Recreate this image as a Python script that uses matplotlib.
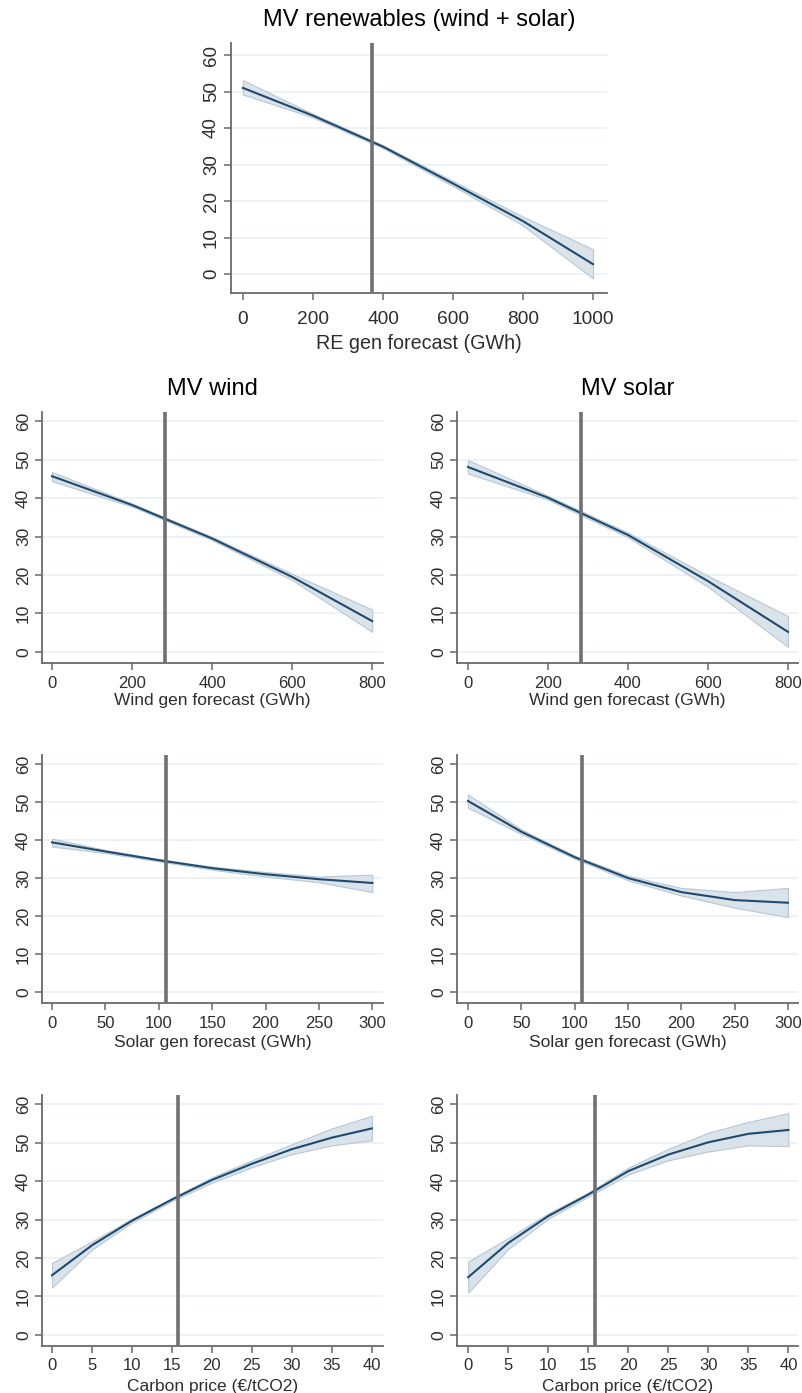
import numpy as np
import matplotlib as mpl
mpl.use('Agg')
import matplotlib.pyplot as plt

plt.rcParams['font.family'] = ['Liberation Sans', 'DejaVu Sans']

# predicted margins (point estimate, lower CI, upper CI)
re_x = [0, 200, 400, 600, 800, 1000]
re_y = [51.0, 43.4, 34.9, 24.8, 14.5, 2.7]
re_lo = [49.2, 42.9, 34.5, 24.1, 13.3, -1.2]
re_hi = [53.1, 43.9, 35.3, 25.5, 15.7, 6.8]

wind_x = [0, 200, 400, 600, 800]
windw_y = [45.7, 38.2, 29.5, 19.5, 8.0]
windw_lo = [44.4, 37.8, 29.1, 18.7, 5.2]
windw_hi = [46.8, 38.6, 29.9, 20.3, 11.0]
winds_y = [48.1, 40.1, 30.4, 18.4, 5.2]
winds_lo = [46.4, 39.6, 29.8, 16.9, 1.3]
winds_hi = [49.9, 40.6, 31.0, 19.8, 9.3]

solar_x = [0, 50, 100, 150, 200, 250, 300]
solarw_y = [39.4, 37.0, 34.7, 32.6, 31.0, 29.7, 28.7]
solarw_lo = [38.3, 36.6, 34.4, 32.2, 30.4, 28.9, 26.3]
solarw_hi = [40.4, 37.4, 35.0, 33.0, 31.6, 30.4, 30.9]
solars_y = [50.3, 42.2, 35.5, 30.0, 26.3, 24.2, 23.5]
solars_lo = [48.5, 41.6, 35.1, 29.4, 25.4, 22.2, 19.7]
solars_hi = [52.0, 42.8, 35.9, 30.6, 27.4, 26.3, 27.4]

co2_x = [0, 5, 10, 15, 20, 25, 30, 35, 40]
co2w_y = [15.5, 23.3, 29.7, 35.2, 40.3, 44.5, 48.3, 51.3, 53.7]
co2w_lo = [12.3, 22.2, 29.2, 34.8, 39.6, 43.6, 47.0, 49.3, 50.6]
co2w_hi = [18.7, 24.3, 30.2, 35.6, 41.0, 45.4, 49.6, 53.7, 57.0]
co2s_y = [15.0, 23.9, 30.9, 36.5, 42.6, 46.9, 50.1, 52.3, 53.3]
co2s_lo = [11.0, 22.3, 30.2, 36.0, 41.7, 45.4, 47.7, 49.3, 49.1]
co2s_hi = [19.1, 25.2, 31.6, 37.0, 43.5, 48.4, 52.6, 55.4, 57.7]

# sample means marked by vertical lines
re_mean = 369
wind_mean = 283
solar_mean = 107
co2_mean = 15.8

W, H = 803, 1393
fig = plt.figure(figsize=(W / 100, H / 100), dpi=100)

navy = '#1f4a6e'
band = '#dae3ea'
band_edge = '#b9c8d5'
grid_c = '#e8f0f3'
spine_c = '#6a6a6a'
txt_c = '#2e2e2e'


def box(l, t, r, b):
    return [l / W, 1 - b / H, (r - l) / W, (b - t) / H]


def panel(rect, x, y, lo, hi, vmean, xticks, xlim, ylim, xlabel, title=None,
          tsize=12, lsize=12.5, ysize=12.5, tpad=4, lpad=2):
    ax = fig.add_axes(rect)
    for g in range(0, 70, 10):
        ax.axhline(g, color=grid_c, lw=1.1, zorder=0)
    ax.fill_between(x, lo, hi, color=band, edgecolor=band_edge, lw=0.8, zorder=2)
    ax.plot(x, y, color=navy, lw=1.5, zorder=3)
    ax.axvline(vmean, color='#707070', lw=2.6, zorder=4)
    ax.set_xlim(xlim)
    ax.set_ylim(ylim)
    ax.set_xticks(xticks)
    ax.set_yticks(range(0, 70, 10))
    for s in ['top', 'right']:
        ax.spines[s].set_visible(False)
    for s in ['left', 'bottom']:
        ax.spines[s].set_color(spine_c)
        ax.spines[s].set_linewidth(1.3)
    ax.tick_params(direction='out', length=5, width=1.1, color=spine_c,
                   labelcolor=txt_c)
    ax.tick_params(axis='x', labelsize=tsize, pad=tpad)
    ax.tick_params(axis='y', labelsize=ysize, pad=3)
    plt.setp(ax.get_yticklabels(), rotation=90, va='center')
    ax.set_xlabel(xlabel, fontsize=lsize, color=txt_c, labelpad=lpad)
    if title:
        ax.set_title(title, fontsize=17, pad=12)
    return ax


panel(box(231, 43, 607, 293), re_x, re_y, re_lo, re_hi, re_mean,
      range(0, 1001, 200), (-34, 1040), (-5.2, 63.3), 'RE gen forecast (GWh)',
      title='MV renewables (wind + solar)', tsize=13.8, lsize=14.2, ysize=13.5,
      tpad=8, lpad=4)

yl = (-2.9, 62.4)
panel(box(42, 412, 383, 663), wind_x, windw_y, windw_lo, windw_hi, wind_mean,
      range(0, 801, 200), (-25, 827), yl, 'Wind gen forecast (GWh)', title='MV wind')
panel(box(457, 412, 798, 663), wind_x, winds_y, winds_lo, winds_hi, wind_mean,
      range(0, 801, 200), (-27.5, 825), yl, 'Wind gen forecast (GWh)', title='MV solar')

panel(box(42, 755, 383, 1003), solar_x, solarw_y, solarw_lo, solarw_hi, solar_mean,
      range(0, 301, 50), (-9.4, 310), yl, 'Solar gen forecast (GWh)', lpad=3)
panel(box(457, 755, 798, 1003), solar_x, solars_y, solars_lo, solars_hi, solar_mean,
      range(0, 301, 50), (-10.3, 309.4), yl, 'Solar gen forecast (GWh)', lpad=3)

panel(box(42, 1095, 383, 1346), co2_x, co2w_y, co2w_lo, co2w_hi, co2_mean,
      range(0, 41, 5), (-1.25, 41.4), yl, 'Carbon price (€/tCO2)', lpad=4)
panel(box(457, 1095, 798, 1346), co2_x, co2s_y, co2s_lo, co2s_hi, co2_mean,
      range(0, 41, 5), (-1.4, 41.2), yl, 'Carbon price (€/tCO2)', lpad=4)

fig.savefig('out.png', dpi=100, facecolor='white')
